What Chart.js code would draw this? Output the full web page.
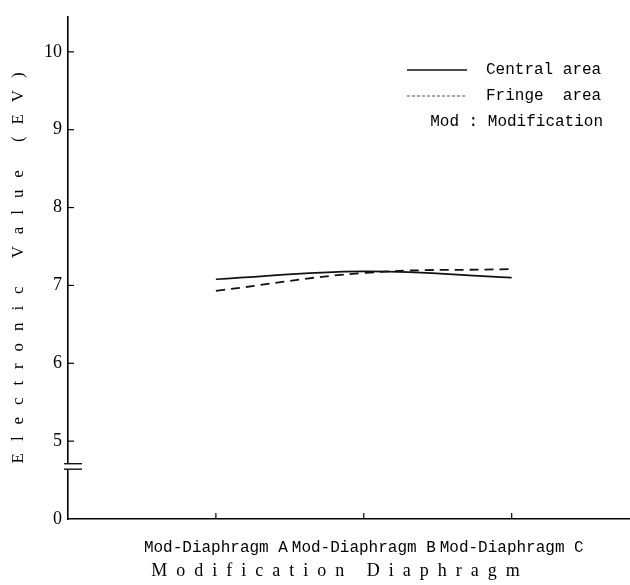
<!DOCTYPE html>
<html>
<head>
<meta charset="utf-8">
<script src="https://cdn.jsdelivr.net/npm/chart.js@4.4.0/dist/chart.umd.min.js"></script>
<style>
  html, body { margin: 0; padding: 0; background: #fff; }
</style>
</head>
<body>
<canvas id="myChart" width="630" height="585"></canvas>
<script>
"use strict";

let categories = ['Mod-Diaphragm A', 'Mod-Diaphragm B', 'Mod-Diaphragm C'];
let centralArea = [7.08, 7.18, 7.10];
let fringeArea = [6.93, 7.16, 7.21];
let yTicks = [0, 5, 6, 7, 8, 9, 10];
let legendNames = ['Central area', 'Fringe  area', 'Mod : Modification'];

// axis is broken between 0 and 5, 0 is drawn one step below 5
let breakBase = 4;
function axisPos(v){
    return v === 0 ? breakBase : v;
}

function toPoints(values){
    let pts = [];
    for (let i = 0; i < values.length; i++){
        pts.push({x: i + 1, y: values[i]});
    }
    return pts;
}

// letter spaced axis titles, like the typewritten original
function spaced(text, gap){
    return text.split('').join(gap);
}

const monoFont = "'Liberation Mono', 'DejaVu Sans Mono', monospace";
const serifFont = "'Liberation Serif', 'DejaVu Serif', serif";

// tick marks pointing inward, the axis break and the legend box
const extras = {
    id: 'extras',
    afterDraw(chart){
        const ctx = chart.ctx;
        const xs = chart.scales.x;
        const ys = chart.scales.y;
        const area = chart.chartArea;

        function line(x1, y1, x2, y2){
            ctx.beginPath();
            ctx.moveTo(x1, y1);
            ctx.lineTo(x2, y2);
            ctx.stroke();
        }

        ctx.save();
        ctx.strokeStyle = '#000';
        ctx.lineWidth = 1.2;
        for (let i = 0; i < categories.length; i++){
            let px = xs.getPixelForValue(i + 1);
            line(px, area.bottom, px, area.bottom - 6);
        }
        for (let i = 0; i < yTicks.length; i++){
            if (yTicks[i] === 0) continue;
            let py = ys.getPixelForValue(axisPos(yTicks[i]));
            line(area.left, py, area.left + 6, py);
        }

        // break marks
        let b1 = ys.getPixelForValue(4.71);
        let b2 = ys.getPixelForValue(4.64);
        ctx.fillStyle = '#fff';
        ctx.fillRect(area.left - 3, b1, 6, b2 - b1);
        ctx.lineWidth = 1.3;
        line(area.left - 4, b1, area.left + 14, b1);
        line(area.left - 4, b2, area.left + 14, b2);

        // legend
        let textRight = area.right - 27;
        let textLeft = textRight - 117;
        let rows = [70, 96, 122];
        ctx.fillStyle = '#000';
        ctx.font = "16px " + monoFont;
        ctx.textBaseline = 'middle';

        ctx.lineWidth = 1.3;
        ctx.strokeStyle = '#111';
        line(textLeft - 79, rows[0], textLeft - 19, rows[0]);
        ctx.textAlign = 'left';
        ctx.fillText(legendNames[0], textLeft, rows[0]);

        ctx.lineWidth = 1;
        ctx.strokeStyle = '#555';
        ctx.setLineDash([3, 2]);
        line(textLeft - 79, rows[1], textLeft - 19, rows[1]);
        ctx.setLineDash([]);
        ctx.fillText(legendNames[1], textLeft, rows[1]);

        ctx.textAlign = 'right';
        ctx.fillText(legendNames[2], textRight, rows[2]);
        ctx.restore();
    }
};

const ctx = document.getElementById('myChart').getContext('2d');
const myChart = new Chart(ctx, {
    type: 'line',
    data: {
        datasets: [{
            label: 'Central area',
            data: toPoints(centralArea),
            borderColor: '#111',
            borderWidth: 1.6,
            pointRadius: 0,
            tension: 0.4,
            fill: false
        }, {
            label: 'Fringe area',
            data: toPoints(fringeArea),
            borderColor: '#111',
            borderWidth: 1.8,
            borderDash: [9, 6],
            pointRadius: 0,
            tension: 0.4,
            fill: false
        }]
    },
    options: {
        responsive: false,
        animation: false,
        layout: {
            padding: {top: 7, right: 0, bottom: 0, left: 0}
        },
        plugins: {
            legend: {display: false},
            tooltip: {enabled: false}
        },
        scales: {
            x: {
                type: 'linear',
                min: 0,
                max: 3.8,
                afterBuildTicks(scale){
                    scale.ticks = categories.map((c, i) => ({value: i + 1}));
                },
                afterFit(scale){
                    scale.height = 66;
                },
                ticks: {
                    callback(v){
                        return categories[v - 1];
                    },
                    font: {family: monoFont, size: 16},
                    color: '#000',
                    padding: 19,
                    maxRotation: 0,
                    autoSkip: false
                },
                grid: {display: true, drawOnChartArea: false, drawTicks: false, color: 'rgba(0,0,0,0)'},
                border: {display: true, color: '#000', width: 1.5},
                title: {
                    display: true,
                    text: spaced('Modification Diaphragm', '\u2002') + '\u2002\u2002\u2002',
                    font: {family: serifFont, size: 18},
                    color: '#000',
                    padding: {top: 0, bottom: 3}
                }
            },
            y: {
                type: 'linear',
                min: breakBase,
                max: 10.45,
                afterBuildTicks(scale){
                    scale.ticks = yTicks.map(v => ({value: axisPos(v)}));
                },
                afterFit(scale){
                    scale.width = 68;
                },
                ticks: {
                    callback(v, i){
                        return String(yTicks[i]);
                    },
                    font: {family: serifFont, size: 18},
                    color: '#000',
                    padding: 6
                },
                grid: {display: true, drawOnChartArea: false, drawTicks: false, color: 'rgba(0,0,0,0)'},
                border: {display: true, color: '#000', width: 1.6},
                title: {
                    display: true,
                    text: spaced('Electronic Value (EV)', '\u2002\u2009'),
                    font: {family: serifFont, size: 17},
                    color: '#000',
                    padding: {top: 8, bottom: 0}
                }
            }
        }
    },
    plugins: [extras]
});
</script>
</body>
</html>
